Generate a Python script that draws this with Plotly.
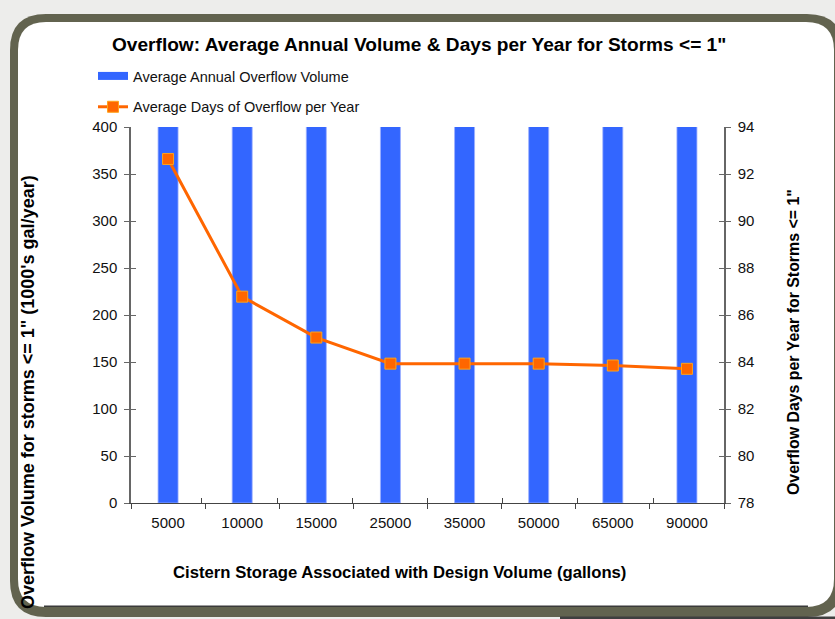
import plotly.graph_objects as go

# ---- data ----
categories = ["5000", "10000", "15000", "25000", "35000", "50000", "65000", "90000"]
# bars run off the top of the 0-400 axis in the reference; values estimated (> 400)
volume_values = [1260, 1200, 1180, 1170, 1170, 1170, 1165, 1160]
days_values = [92.64, 86.78, 85.04, 83.93, 83.93, 83.93, 83.85, 83.71]
left_ticks = [0, 50, 100, 150, 200, 250, 300, 350, 400]
right_ticks = [78, 80, 82, 84, 86, 88, 90, 92, 94]

W, H = 835, 619
L, R, T, B = 131, 111, 127, 116
PW, PH = W - L - R, H - T - B


def X(px):
    return (px - L) / PW


def Y(py):
    return (H - B - py) / PH


def rrect(x0, y0, x1, y1, r):
    return (f"M{X(x0 + r)},{Y(y0)} L{X(x1 - r)},{Y(y0)} Q{X(x1)},{Y(y0)} {X(x1)},{Y(y0 + r)} "
            f"L{X(x1)},{Y(y1 - r)} Q{X(x1)},{Y(y1)} {X(x1 - r)},{Y(y1)} "
            f"L{X(x0 + r)},{Y(y1)} Q{X(x0)},{Y(y1)} {X(x0)},{Y(y1 - r)} "
            f"L{X(x0)},{Y(y0 + r)} Q{X(x0)},{Y(y0)} {X(x0 + r)},{Y(y0)} Z")


FONT = "Liberation Sans, Arial, Helvetica, sans-serif"
AXC = "#666666"
BAR_COLOR = "#3366FF"

fig = go.Figure()
fig.add_trace(go.Bar(
    x=categories, y=volume_values, name="Average Annual Overflow Volume",
    width=0.27, marker=dict(color=BAR_COLOR, line=dict(color="#9DB0FF", width=0.8)),
    showlegend=False, xaxis="x", yaxis="y",
))
# legend proxy for the bar series (wide flat swatch like the reference)
fig.add_trace(go.Scatter(
    x=[categories[0]], y=[None], name="Average Annual Overflow Volume", mode="lines",
    line=dict(color=BAR_COLOR, width=8), legendgroup="a", hoverinfo="skip",
    xaxis="x", yaxis="y",
))
fig.add_trace(go.Scatter(
    x=categories, y=days_values, name="Average Days of Overflow per Year",
    mode="lines+markers", line=dict(color="#FF6600", width=3),
    marker=dict(symbol="square", size=11, color="#FF6600", line=dict(color="#FFA31A", width=1)),
    legendgroup="b", xaxis="x", yaxis="y2", cliponaxis=False,
))
# invisible helpers so that overlay axes (inside half of crossing ticks) are drawn
fig.add_trace(go.Scatter(x=categories, y=[None] * len(categories), xaxis="x2", yaxis="y3",
                         showlegend=False, hoverinfo="skip", mode="markers"))
fig.add_trace(go.Scatter(x=categories, y=[None] * len(categories), xaxis="x2", yaxis="y4",
                         showlegend=False, hoverinfo="skip", mode="markers"))

tickfont = dict(family=FONT, size=15, color="#111111")
fig.update_layout(
    width=W, height=H,
    margin=dict(l=L, r=R, t=T, b=B, pad=0),
    paper_bgcolor="#EDEDEB", plot_bgcolor="rgba(0,0,0,0)",
    xaxis=dict(type="category", categoryorder="array", categoryarray=categories,
               tickson="boundaries", ticks="outside", ticklen=5, tickcolor="#444444",
               showline=True, linecolor="#444444", linewidth=1, showgrid=False,
               tickfont=tickfont, ticklabelstandoff=6, zeroline=False),
    xaxis2=dict(type="category", categoryorder="array", categoryarray=categories,
                overlaying="x", anchor="y", tickson="boundaries", ticks="inside", ticklen=5,
                tickcolor="#444444", showticklabels=False, showline=False, showgrid=False),
    yaxis=dict(range=[0, 400], tickvals=left_ticks, ticks="outside", ticklen=5, tickcolor=AXC,
               showline=True, linecolor=AXC, linewidth=1.5, showgrid=False, zeroline=False,
               tickfont=tickfont, ticklabelstandoff=4),
    yaxis2=dict(range=[78, 94], tickvals=right_ticks, overlaying="y", side="right", anchor="x",
                ticks="outside", ticklen=5, tickcolor=AXC, showline=True, linecolor=AXC,
                linewidth=1.5, showgrid=False, zeroline=False, tickfont=tickfont,
                ticklabelstandoff=4),
    yaxis3=dict(range=[0, 400], tickvals=left_ticks, overlaying="y", side="left", anchor="x2",
                ticks="inside", ticklen=5, tickcolor=AXC, showticklabels=False, showline=False,
                showgrid=False, zeroline=False),
    yaxis4=dict(range=[78, 94], tickvals=right_ticks, overlaying="y", side="right", anchor="x2",
                ticks="inside", ticklen=5, tickcolor=AXC, showticklabels=False, showline=False,
                showgrid=False, zeroline=False),
    legend=dict(x=X(93), y=Y(60), xanchor="left", yanchor="top", orientation="v",
                traceorder="grouped", tracegroupgap=9, bgcolor="rgba(0,0,0,0)",
                font=dict(family=FONT, size=14.5, color="#111111"), itemwidth=30),
    showlegend=True,
)

shapes = [
    dict(type="path", xref="paper", yref="paper", layer="below",
         path=rrect(10, 14, 843, 617, 36), fillcolor="#62634F", line=dict(width=0)),
    dict(type="path", xref="paper", yref="paper", layer="below",
         path=rrect(18, 22, 834, 607, 28), fillcolor="#FFFFFF", line=dict(width=0)),
    dict(type="line", xref="paper", yref="paper", layer="below",
         x0=X(44), x1=X(808), y0=Y(606.3), y1=Y(606.3), line=dict(color="#3A3A3A", width=1.5)),
    dict(type="rect", xref="paper", yref="paper", layer="below",
         x0=X(560), x1=X(836), y0=Y(616.5), y1=Y(620), fillcolor="#3F3F3F", line=dict(width=0)),
]
fig.update_layout(shapes=shapes)

ann = [
    dict(text="<b>Overflow: Average Annual Volume &amp; Days per Year for Storms &lt;= 1\"</b>",
         x=X(419), y=Y(44), font=dict(family=FONT, size=19.1, color="#000000")),
    dict(text="<b>Cistern Storage Associated with Design Volume (gallons)</b>",
         x=X(399), y=Y(572), font=dict(family=FONT, size=16.7, color="#000000")),
    dict(text="<b>Overflow Volume for storms &lt;= 1\" (1000's gal/year)</b>", textangle=-90,
         x=X(28), y=Y(392), font=dict(family=FONT, size=18, color="#000000")),
    dict(text="<b>Overflow Days per Year for Storms &lt;= 1\"</b>", textangle=-90,
         x=X(793), y=Y(342), font=dict(family=FONT, size=15.9, color="#000000")),
]
for a in ann:
    a.update(xref="paper", yref="paper", xanchor="center", yanchor="middle", showarrow=False)
fig.update_layout(annotations=ann)

fig.write_html("out.html")
